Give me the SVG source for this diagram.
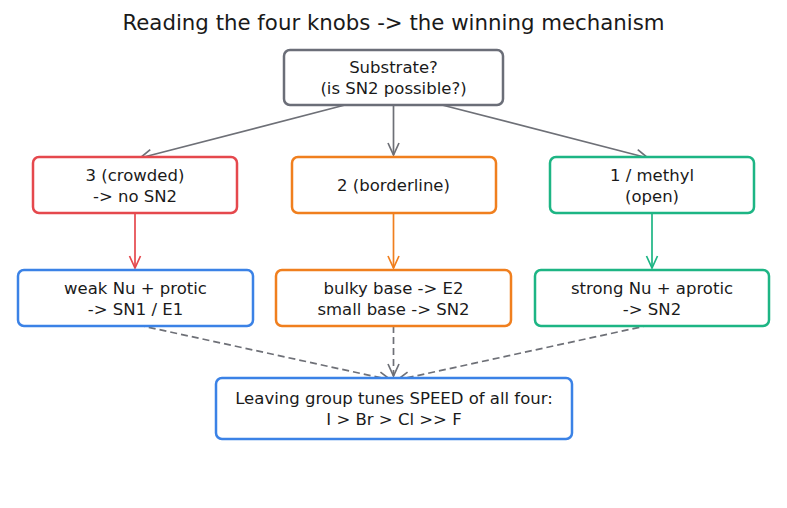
<svg xmlns="http://www.w3.org/2000/svg" width="787" height="508" viewBox="0 0 787 508">
<style>
text{font-family:"DejaVu Sans","Liberation Sans",sans-serif;fill:#1a1a1a;text-anchor:middle}
.t{font-size:16.5px}
.title{font-size:21.3px}
rect{fill:#fff;stroke-width:2.5}
.gray{stroke:#6b6e78}.red{stroke:#e5484d}.orange{stroke:#f07f1e}.green{stroke:#1db584}.blue{stroke:#3b82e6}
.c{fill:none;stroke-width:1.7}
.dash{stroke-dasharray:7,4}
</style>
<defs>
<marker id="ag" viewBox="0 0 14 14" refX="13" refY="7" markerWidth="14" markerHeight="14" markerUnits="userSpaceOnUse" orient="auto"><polyline points="1,1.5 13,7 1,12.5" fill="none" stroke="#6e7077" stroke-width="1.7"/></marker>
<marker id="ar" viewBox="0 0 14 14" refX="13" refY="7" markerWidth="14" markerHeight="14" markerUnits="userSpaceOnUse" orient="auto"><polyline points="1,1.5 13,7 1,12.5" fill="none" stroke="#e5484d" stroke-width="1.7"/></marker>
<marker id="ao" viewBox="0 0 14 14" refX="13" refY="7" markerWidth="14" markerHeight="14" markerUnits="userSpaceOnUse" orient="auto"><polyline points="1,1.5 13,7 1,12.5" fill="none" stroke="#f07f1e" stroke-width="1.7"/></marker>
<marker id="an" viewBox="0 0 14 14" refX="13" refY="7" markerWidth="14" markerHeight="14" markerUnits="userSpaceOnUse" orient="auto"><polyline points="1,1.5 13,7 1,12.5" fill="none" stroke="#1db584" stroke-width="1.7"/></marker>
</defs>
<text class="title" x="393.5" y="30">Reading the four knobs -&gt; the winning mechanism</text>
<g id="connectors">
<line class="c" stroke="#6e7077" x1="345" y1="105" x2="140" y2="158" marker-end="url(#ag)"/>
<line class="c" stroke="#6e7077" x1="393.5" y1="105" x2="393.5" y2="155" marker-end="url(#ag)"/>
<line class="c" stroke="#6e7077" x1="442" y1="105" x2="648" y2="158" marker-end="url(#ag)"/>
<line class="c" stroke="#e5484d" x1="135" y1="213" x2="135" y2="268" marker-end="url(#ar)"/>
<line class="c" stroke="#f07f1e" x1="393.5" y1="213" x2="393.5" y2="268" marker-end="url(#ao)"/>
<line class="c" stroke="#1db584" x1="652" y1="213" x2="652" y2="268" marker-end="url(#an)"/>
<line class="c dash" stroke="#6e7077" x1="138" y1="325" x2="391" y2="380" marker-end="url(#ag)"/>
<line class="c dash" stroke="#6e7077" x1="393.5" y1="326" x2="393.5" y2="376" marker-end="url(#ag)"/>
<line class="c dash" stroke="#6e7077" x1="650" y1="325" x2="397" y2="380" marker-end="url(#ag)"/>
</g>
<g id="substrate"><rect class="gray" x="284" y="50" width="219" height="55" rx="6"/><text class="t" x="393.5" y="73">Substrate?</text><text class="t" x="393.5" y="94">(is SN2 possible?)</text></g>
<g id="tertiary"><rect class="red" x="33" y="157" width="204" height="56" rx="6"/><text class="t" x="135" y="181">3 (crowded)</text><text class="t" x="135" y="202">-&gt; no SN2</text></g>
<g id="secondary"><rect class="orange" x="292" y="157" width="204" height="56" rx="6"/><text class="t" x="393.5" y="191">2 (borderline)</text></g>
<g id="primary"><rect class="green" x="550" y="157" width="204" height="56" rx="6"/><text class="t" x="652" y="181">1 / methyl</text><text class="t" x="652" y="202">(open)</text></g>
<g id="weak"><rect class="blue" x="18" y="270" width="235" height="56" rx="6"/><text class="t" x="135.5" y="294">weak Nu + protic</text><text class="t" x="135.5" y="315">-&gt; SN1 / E1</text></g>
<g id="bulky"><rect class="orange" x="276" y="270" width="235" height="56" rx="6"/><text class="t" x="393.5" y="294">bulky base -&gt; E2</text><text class="t" x="393.5" y="315">small base -&gt; SN2</text></g>
<g id="strong"><rect class="green" x="535" y="270" width="234" height="56" rx="6"/><text class="t" x="652" y="294">strong Nu + aprotic</text><text class="t" x="652" y="315">-&gt; SN2</text></g>
<g id="leaving"><rect class="blue" x="216" y="378" width="356" height="61" rx="6"/><text class="t" x="394" y="404">Leaving group tunes SPEED of all four:</text><text class="t" x="394" y="425">I &gt; Br &gt; Cl &gt;&gt; F</text></g>
</svg>
